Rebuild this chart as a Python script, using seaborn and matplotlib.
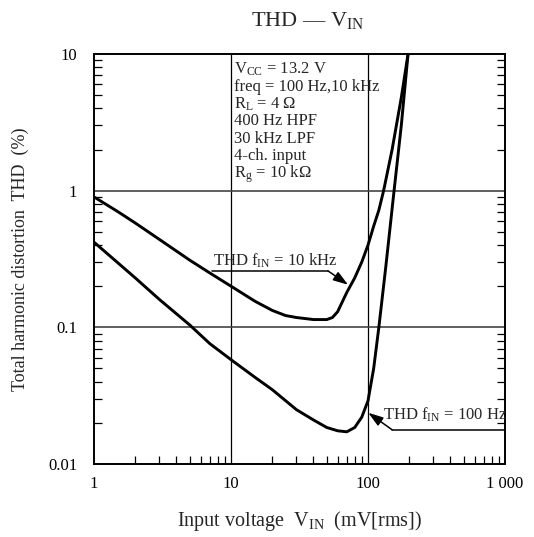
import matplotlib
matplotlib.use("Agg")
import matplotlib.pyplot as plt
import matplotlib.ticker as mticker
import seaborn as sns
import pandas as pd

# THD vs input voltage, two signal frequencies
vin_10k = [1, 1.5, 2, 3, 5, 7, 10, 15, 20, 25, 30, 40, 50, 55, 60, 70, 80, 90, 100, 110, 120, 130, 150, 175, 196]
thd_10k = [0.9, 0.7, 0.58, 0.44, 0.31, 0.25, 0.2, 0.155, 0.133, 0.122, 0.118, 0.114, 0.114, 0.118,
           0.13, 0.18, 0.23, 0.3, 0.4, 0.55, 0.72, 1.0, 2.0, 4.8, 10]

vin_100 = [1, 2, 3, 5, 7, 10, 15, 20, 30, 40, 50, 60, 70, 80, 90, 100, 110, 120, 135, 155, 175, 196]
thd_100 = [0.42, 0.23, 0.16, 0.104, 0.076, 0.058, 0.043, 0.035, 0.025, 0.021, 0.0185, 0.0175,
           0.0172, 0.0185, 0.022, 0.029, 0.05, 0.1, 0.28, 1.0, 3.0, 10]

x_ticks = [1, 10, 100, 1000]
x_tick_labels = ["1", "10", "100", "1 000"]
y_ticks = [0.01, 0.1, 1, 10]
y_tick_labels = ["0.01", "0.1", "1", "10"]

conditions = [
    r"V$_{\mathrm{CC}}$ = 13.2 V",
    "freq = 100 Hz,10 kHz",
    r"R$_{\mathrm{L}}$ = 4 Ω",
    "400 Hz HPF",
    "30 kHz LPF",
    "4-ch. input",
    r"R$_{\mathrm{g}}$ = 10 kΩ",
]

sns.set_style("white")
plt.rcParams["font.family"] = ["Liberation Serif", "DejaVu Serif"]
plt.rcParams["mathtext.fontset"] = "custom"
plt.rcParams["mathtext.rm"] = "Liberation Serif"
plt.rcParams["mathtext.it"] = "Liberation Serif:italic"
plt.rcParams["mathtext.bf"] = "Liberation Serif:bold"

df = pd.concat([
    pd.DataFrame({"vin": vin_10k, "thd": thd_10k, "f": "10 kHz"}),
    pd.DataFrame({"vin": vin_100, "thd": thd_100, "f": "100 Hz"}),
])

W, H = 534, 537
fig = plt.figure(figsize=(W / 100, H / 100), dpi=100)
ax = fig.add_axes([94 / W, (H - 464) / H, 411 / W, 410 / H])

sns.lineplot(data=df, x="vin", y="thd", units="f", estimator=None, sort=False,
             color="black", linewidth=2.1, ax=ax, legend=False)

ax.set_xscale("log")
ax.set_yscale("log")
ax.set_xlim(1, 1000)
ax.set_ylim(0.01, 10)

ax.xaxis.set_major_locator(mticker.FixedLocator(x_ticks))
ax.xaxis.set_major_formatter(mticker.FixedFormatter(x_tick_labels))
ax.yaxis.set_major_locator(mticker.FixedLocator(y_ticks))
ax.yaxis.set_major_formatter(mticker.FixedFormatter(y_tick_labels))
ax.xaxis.set_minor_locator(mticker.LogLocator(base=10, subs=range(2, 10)))
ax.yaxis.set_minor_locator(mticker.LogLocator(base=10, subs=range(2, 10)))
ax.xaxis.set_minor_formatter(mticker.NullFormatter())
ax.yaxis.set_minor_formatter(mticker.NullFormatter())

ax.tick_params(which="both", direction="in", bottom=True, left=True, right=True, top=False,
               color="black")
ax.tick_params(which="major", length=0, labelsize=12, colors="black")
ax.tick_params(axis="x", which="major", pad=9)
ax.tick_params(axis="y", which="major", pad=12)
ax.tick_params(which="minor", length=6, width=0.9)

# decade grid
for xv in x_ticks[1:-1]:
    ax.axvline(xv, color="black", lw=0.9, zorder=1)
for yv in y_ticks[1:-1]:
    ax.axhline(yv, color="#444444", lw=1.2, zorder=1)

for s in ax.spines.values():
    s.set_color("black")
    s.set_linewidth(1.4)
    s.set_visible(True)

ax.set_xlabel(r"Input voltage  V$_{\mathrm{IN}}$  (mV[rms])", fontsize=14.5, labelpad=12)
ax.set_ylabel("Total harmonic distortion  THD  (%)", fontsize=13, labelpad=14)
ax.set_title(r"THD — V$_{\mathrm{IN}}$", fontsize=16, pad=20, x=0.52)

# test conditions
for i, line in enumerate(conditions):
    ax.text((234 - 94) / 411, (464 - 73.5 - i * 17.3) / 410, line, transform=ax.transAxes,
            fontsize=12, ha="left", va="baseline")

# curve labels with leader lines
arrow = dict(arrowstyle="-|>,head_length=0.9,head_width=0.3", color="black",
             lw=1.1, shrinkA=0, shrinkB=0)

ax.text(7.4, 0.281, r"THD f$_{\mathrm{IN}}$ = 10 kHz", fontsize=12, ha="left", va="baseline")
ax.plot([7.27, 51], [0.259, 0.259], color="black", lw=1.1)
ax.annotate("", xy=(71.5, 0.205), xytext=(51, 0.259), arrowprops=arrow)

ax.text(128, 0.0212, r"THD f$_{\mathrm{IN}}$ = 100 Hz", fontsize=12, ha="left", va="baseline")
ax.plot([1000, 150], [0.0178, 0.0178], color="black", lw=1.1)
ax.annotate("", xy=(100.5, 0.0237), xytext=(150, 0.0178), arrowprops=arrow)

fig.savefig("out.png", dpi=100, facecolor="white")
